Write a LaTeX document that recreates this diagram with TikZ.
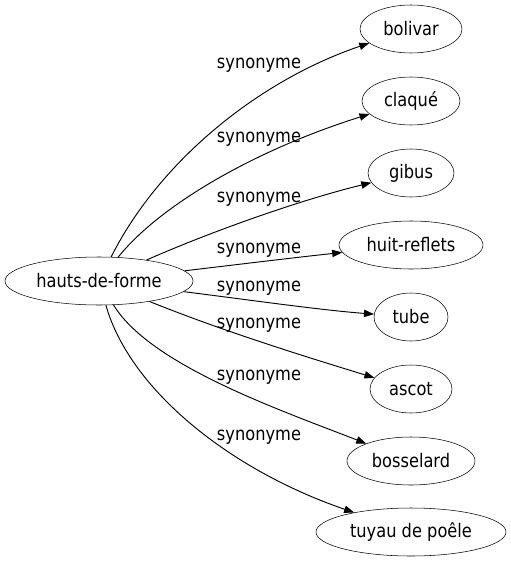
\documentclass[tikz,border=0pt]{standalone}
\usepackage{fontspec}
\setmainfont{DejaVu Sans}[FakeStretch=0.87]
\usetikzlibrary{shapes.geometric,arrows.meta}

\begin{document}
\begin{tikzpicture}[x=0.75pt,y=-0.75pt,
		mot/.style={draw,ellipse,minimum height=36pt,inner sep=0pt,font=\fontsize{14}{16}\selectfont},
		lien/.style={-{Triangle[length=7.5pt,width=5.5pt]},line width=0.7pt},
		rel/.style={inner sep=0pt,font=\fontsize{14}{16}\selectfont}]
	\def \lx {259}
	\useasboundingbox (0,0) rectangle (510,563);

	\node[mot,minimum width=141pt] (hdf) at (99,281) {hauts-de-forme};
	\foreach \n/\t/\y/\w in {bolivar/bolivar/29/76.5,claque/claqué/101/73.5,gibus/gibus/173/64.5,
			huit/huit-reflets/245/108,tube/tube/317/55.5,ascot/ascot/389/61.5,
			bosselard/bosselard/461/96,tuyau/tuyau de poêle/532/142.5} {
		\node[mot,minimum width=\w pt] (\n) at (411,\y) {\t};
	}
	% un lien par synonyme
	\foreach \n/\a/\b/\k/\ly in {bolivar/{(160,160)}/{(260,80)}/1/65,
			claque/{(160,205)}/{(255,150)}/2/139,
			gibus/{(210,232)}/{(300,200)}/3/199,
			huit/{(250,263)}/{(300,257)}/4/250,
			tube/{(250,300)}/{(320,310)}/5/288,
			ascot/{(220,330)}/{(300,355)}/6/325,
			bosselard/{(150,365)}/{(280,410)}/7/377,
			tuyau/{(130,390)}/{(230,470)}/8/437} {
		\draw[lien] (hdf) .. controls \a and \b .. (\n);
		\node[rel] (l\k) at (\lx,\ly) {synonyme};
	}
\end{tikzpicture}
\end{document}
